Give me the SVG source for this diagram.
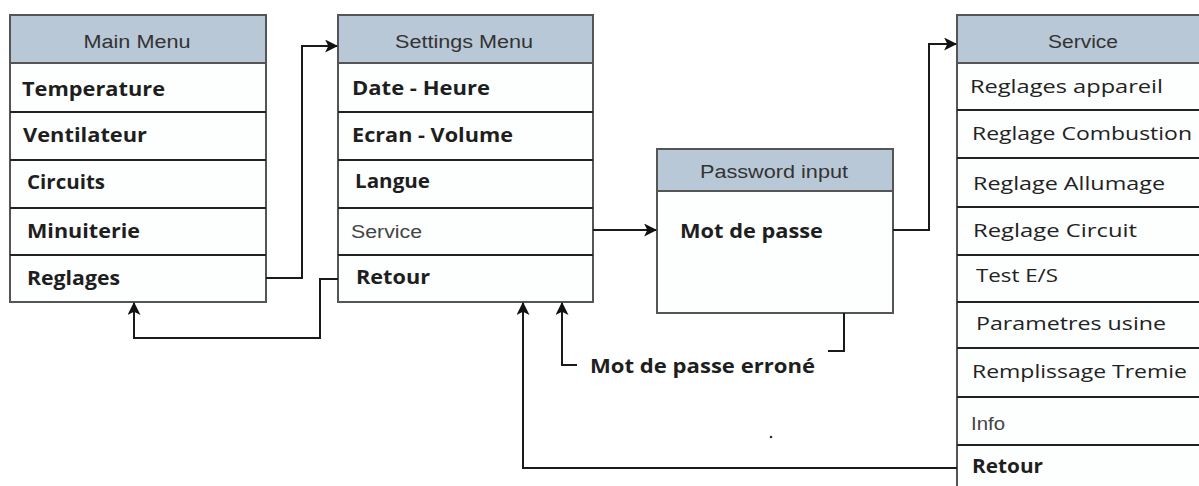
<svg xmlns="http://www.w3.org/2000/svg" width="1199" height="486" viewBox="0 0 1199 486">
<defs>
<style>
.box{fill:#fdfefe;stroke:#555;stroke-width:2}
.hdr{fill:#b9c8d6;stroke:#555;stroke-width:2}
.sep{stroke:#222;stroke-width:2}
.ht{font-family:"Liberation Sans",Arial,sans-serif;font-size:18px;fill:#333;text-anchor:middle}
.b{font-family:"Open Sans",sans-serif;font-weight:700;font-size:19.5px;fill:#1e1e1e}
.r{font-family:"Open Sans",sans-serif;font-weight:400;font-size:19px;fill:#222}
.a{font-family:"Liberation Sans",Arial,sans-serif;font-size:18px;fill:#444}
.ln{fill:none;stroke:#1a1a1a;stroke-width:2}
</style>
<marker id="ah" viewBox="0 0 12 12" refX="11" refY="6" markerWidth="13" markerHeight="13" markerUnits="userSpaceOnUse" orient="auto">
<path d="M0,0 L12,6 L0,12 L3,6 Z" fill="#111"/>
</marker>
</defs>
<rect width="1199" height="486" fill="#ffffff"/>

<g id="main-menu">
<rect class="box" x="10" y="15" width="256" height="287"/>
<rect class="hdr" x="10" y="15" width="256" height="48"/>
<line class="sep" x1="10" y1="112" x2="266" y2="112"/>
<line class="sep" x1="10" y1="160" x2="266" y2="160"/>
<line class="sep" x1="10" y1="208" x2="266" y2="208"/>
<line class="sep" x1="10" y1="255" x2="266" y2="255"/>
<text class="ht" x="137" y="48" textLength="107" lengthAdjust="spacingAndGlyphs">Main Menu</text>
<text class="b" x="22" y="96" textLength="143" lengthAdjust="spacingAndGlyphs">Temperature</text>
<text class="b" x="23" y="142" textLength="124" lengthAdjust="spacingAndGlyphs">Ventilateur</text>
<text class="b" x="27" y="189" textLength="78" lengthAdjust="spacingAndGlyphs">Circuits</text>
<text class="b" x="27" y="238" textLength="113" lengthAdjust="spacingAndGlyphs">Minuiterie</text>
<text class="b" x="27" y="285" textLength="93" lengthAdjust="spacingAndGlyphs">Reglages</text>
</g>

<g id="settings-menu">
<rect class="box" x="338" y="15" width="255" height="287"/>
<rect class="hdr" x="338" y="15" width="255" height="48"/>
<line class="sep" x1="338" y1="112" x2="593" y2="112"/>
<line class="sep" x1="338" y1="160" x2="593" y2="160"/>
<line class="sep" x1="338" y1="208" x2="593" y2="208"/>
<line class="sep" x1="338" y1="255" x2="593" y2="255"/>
<text class="ht" x="464" y="48" textLength="138" lengthAdjust="spacingAndGlyphs">Settings Menu</text>
<text class="b" x="352" y="95" textLength="138" lengthAdjust="spacingAndGlyphs">Date - Heure</text>
<text class="b" x="352" y="142" textLength="161" lengthAdjust="spacingAndGlyphs">Ecran - Volume</text>
<text class="b" x="355" y="188" textLength="75" lengthAdjust="spacingAndGlyphs">Langue</text>
<text class="a" x="351" y="238" textLength="71" lengthAdjust="spacingAndGlyphs">Service</text>
<text class="b" x="356" y="284" textLength="74" lengthAdjust="spacingAndGlyphs">Retour</text>
</g>

<g id="password-input">
<rect class="box" x="657" y="149" width="236" height="164"/>
<rect class="hdr" x="657" y="149" width="236" height="42"/>
<text class="ht" x="774" y="178" textLength="148" lengthAdjust="spacingAndGlyphs">Password input</text>
<text class="b" x="680" y="238" textLength="143" lengthAdjust="spacingAndGlyphs">Mot de passe</text>
</g>

<g id="service-menu">
<rect class="box" x="957" y="15" width="250" height="480"/>
<rect class="hdr" x="957" y="15" width="250" height="48"/>
<line class="sep" x1="957" y1="110" x2="1207" y2="110"/>
<line class="sep" x1="957" y1="158" x2="1207" y2="158"/>
<line class="sep" x1="957" y1="207" x2="1207" y2="207"/>
<line class="sep" x1="957" y1="255" x2="1207" y2="255"/>
<line class="sep" x1="957" y1="302" x2="1207" y2="302"/>
<line class="sep" x1="957" y1="348" x2="1207" y2="348"/>
<line class="sep" x1="957" y1="397" x2="1207" y2="397"/>
<line class="sep" x1="957" y1="445" x2="1207" y2="445"/>
<text class="ht" x="1083" y="48" textLength="70" lengthAdjust="spacingAndGlyphs">Service</text>
<text class="r" x="970" y="93" textLength="193" lengthAdjust="spacingAndGlyphs">Reglages appareil</text>
<text class="r" x="972" y="140" textLength="220" lengthAdjust="spacingAndGlyphs">Reglage Combustion</text>
<text class="r" x="973" y="190" textLength="192" lengthAdjust="spacingAndGlyphs">Reglage Allumage</text>
<text class="r" x="973" y="237" textLength="164" lengthAdjust="spacingAndGlyphs">Reglage Circuit</text>
<text class="r" x="976" y="282" textLength="82" lengthAdjust="spacingAndGlyphs">Test E/S</text>
<text class="r" x="976" y="330" textLength="190" lengthAdjust="spacingAndGlyphs">Parametres usine</text>
<text class="r" x="972" y="378" textLength="215" lengthAdjust="spacingAndGlyphs">Remplissage Tremie</text>
<text class="a" x="971" y="430" textLength="34" lengthAdjust="spacingAndGlyphs">Info</text>
<text class="b" x="972" y="473" textLength="71" lengthAdjust="spacingAndGlyphs">Retour</text>
</g>

<g id="connectors">
<path class="ln" d="M266,278 H302 V46 H337" marker-end="url(#ah)"/>
<path class="ln" d="M338,279 H320 V338 H134 V303" marker-end="url(#ah)"/>
<path class="ln" d="M593,230 H656" marker-end="url(#ah)"/>
<path class="ln" d="M893,230 H929 V44 H956" marker-end="url(#ah)"/>
<path class="ln" d="M844,313 V351 H828"/>
<path class="ln" d="M577,365 H562 V303" marker-end="url(#ah)"/>
<path class="ln" d="M957,468 H523 V303" marker-end="url(#ah)"/>
<text class="b" x="590" y="373" textLength="225" lengthAdjust="spacingAndGlyphs">Mot de passe erroné</text>
<circle cx="771" cy="437" r="1.3" fill="#333"/>
</g>
</svg>
